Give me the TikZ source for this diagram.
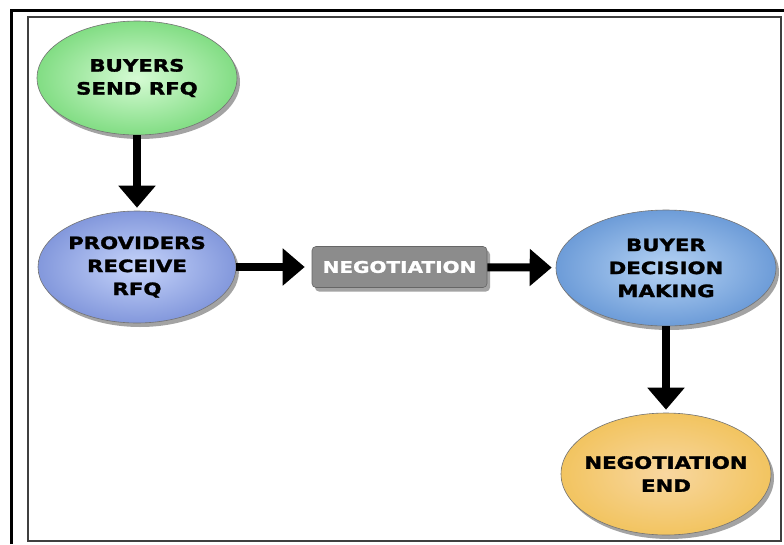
\documentclass[tikz,border=0pt]{standalone}
\usepackage{fontspec}
\setmainfont{DejaVu Sans}[FakeStretch=1.25, BoldFeatures={FakeBold=1.6}]
\usetikzlibrary{shapes.geometric,shadows,arrows.meta}
\definecolor{greenin}{HTML}{D6FBD4}
\definecolor{greenout}{HTML}{82DD84}
\definecolor{provin}{HTML}{C6D4FA}
\definecolor{provout}{HTML}{8398DC}
\definecolor{buyin}{HTML}{B6D3F4}
\definecolor{buyout}{HTML}{6D9CD8}
\definecolor{endin}{HTML}{F8D7A0}
\definecolor{endout}{HTML}{F2C460}
\definecolor{negfill}{HTML}{8C8C8C}
\tikzset{
  stage/.style={ellipse, inner xsep=-40pt, inner ysep=-20pt, align=center, font=\bfseries\fontsize{17}{23}\selectfont,
    draw=black!55, line width=0.6pt,
    drop shadow={shadow xshift=3pt, shadow yshift=-4pt, opacity=0.45, fill=black!80}},
  negbox/.style={rectangle, rounded corners=4pt, fill=negfill, draw=black!60, line width=0.6pt,
    minimum width=175pt, minimum height=41pt, text=white, font=\bfseries\fontsize{16}{18}\selectfont,
    drop shadow={shadow xshift=3pt, shadow yshift=-4pt, opacity=0.45, fill=black!80}},
  flow/.style={line width=8pt, -{Triangle[width=36pt,length=22pt]}}
}
\begin{document}
\begin{tikzpicture}[x=1pt,y=-1pt]
\useasboundingbox (0,0) rectangle (784,544);
\fill[white] (0,0) rectangle (784,544);
% frames
\draw[line width=3pt] (11,544) -- (11,10) -- (784,10);
\draw[line width=1.6pt, black!75] (28,17) rectangle (781,541);
% nodes
\node[stage, minimum width=200pt, minimum height=114pt, inner color=greenin, outer color=greenout]
  (send) at (137,78) {BUYERS\\SEND RFQ};
\node[stage, minimum width=198pt, minimum height=112pt, inner color=provin, outer color=provout]
  (recv) at (137,267) {PROVIDERS\\RECEIVE\\RFQ};
\node[negbox] (neg) at (399.5,267) {NEGOTIATION};
\node[stage, minimum width=220pt, minimum height=116pt, inner color=buyin, outer color=buyout]
  (dec) at (666,268) {BUYER\\DECISION\\MAKING};
\node[stage, minimum width=210pt, minimum height=122pt, inner color=endin, outer color=endout]
  (end) at (666,474) {NEGOTIATION\\END};
% connectors
\draw[flow, shorten >=3pt] (send) -- (recv);
\draw[flow, shorten >=7pt] (recv) -- (neg);
\draw[flow, shorten >=4pt] (neg) -- (dec);
\draw[flow, shorten >=3pt] (dec) -- (end);
\end{tikzpicture}
\end{document}
